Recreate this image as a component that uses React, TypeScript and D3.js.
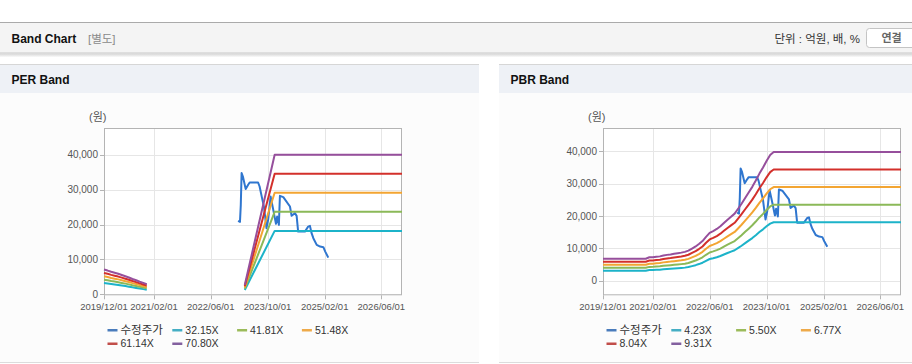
import React from "react";
import * as d3 from "d3";

// ---------- data ----------
const X_TICK_LABELS = ["2019/12/01", "2021/02/01", "2022/06/01", "2023/10/01", "2025/02/01", "2026/06/01"];
const X_START = "2019-12-01";
const X_END = "2026-11-25";
const Y_TICKS = [0, 10000, 20000, 30000, 40000];

const PRICE_DATES = [
  "2023-01-22", "2023-02-07", "2023-02-14", "2023-02-21", "2023-03-04", "2023-03-28", "2023-04-18", "2023-05-01",
  "2023-07-12", "2023-07-25", "2023-08-15", "2023-08-31", "2023-09-22", "2023-10-06", "2023-10-27", "2023-11-19",
  "2023-12-12", "2023-12-22", "2024-01-06", "2024-01-15", "2024-02-13", "2024-04-10", "2024-04-24", "2024-05-22",
  "2024-06-06", "2024-06-19", "2024-08-16", "2024-09-13", "2024-09-28", "2024-10-12", "2024-10-27", "2024-11-25",
  "2024-12-24", "2025-01-21", "2025-02-06", "2025-03-04",
];
const PRICE_VALUES = [
  21045, 20758, 25640, 34740, 33764, 30146, 31381, 32041,
  32041, 30893, 27562, 25151, 18949, 21332, 28022, 24203,
  20184, 22280, 19897, 28223, 27850, 25151, 22480, 23256,
  22480, 17973, 17973, 19408, 19610, 17514, 16078, 14154,
  13666, 13494, 12231, 10508,
];

// PER band: EPS basis (null = gap)
const EPS_DATES = [
  "2019-12-01", "2020-01-01", "2020-02-01", "2020-03-01", "2020-04-01", "2020-05-01", "2020-06-01",
  "2020-07-01", "2020-08-01", "2020-09-01", "2020-10-01", "2020-11-01", "2020-12-01",
  "2021-01-01", "2023-03-20", "2023-12-01", "2026-11-25",
];
const EPS_VALUES = [100, 96, 91, 87, 83, 78, 73, 68, 62, 57, 51, 46, 41, null, 38, 565, 565];
const PER_MULTIPLES = [32.15, 41.81, 51.48, 61.14, 70.8];
const PER_LABELS = ["32.15X", "41.81X", "51.48X", "61.14X", "70.80X"];

// PBR band: BPS basis
const BPS_DATES = [
  "2019-12-01", "2020-01-01", "2020-02-01", "2020-03-01", "2020-04-01", "2020-05-01", "2020-06-01",
  "2020-07-01", "2020-08-01", "2020-09-01", "2020-10-01", "2020-11-01", "2020-12-01",
  "2021-01-01", "2021-02-01", "2021-03-01", "2021-04-01", "2021-05-01", "2021-06-01",
  "2021-07-01", "2021-08-01", "2021-09-01", "2021-10-01", "2021-11-01", "2021-12-01",
  "2022-01-01", "2022-02-01", "2022-03-01", "2022-04-01", "2022-05-01", "2022-06-01",
  "2022-07-01", "2022-08-01", "2022-09-01", "2022-10-01", "2022-11-01", "2022-12-01",
  "2023-01-01", "2023-02-01", "2023-03-01", "2023-04-01", "2023-05-01", "2023-06-01",
  "2023-07-01", "2023-08-01", "2023-09-01", "2023-10-01", "2023-11-01", "2023-12-01",
  "2026-11-25",
];
const BPS_VALUES = [
  730, 730, 730, 730, 730, 730, 730, 730, 730, 730, 730, 730, 730,
  780, 782, 800, 810, 840, 860, 875, 895, 915, 935, 960, 1000,
  1070, 1140, 1220, 1320, 1460, 1590, 1650, 1720, 1810, 1920, 2030, 2130,
  2230, 2400, 2560, 2750, 2930, 3120, 3330, 3560, 3760, 3980, 4180, 4280,
  4280,
];
const PBR_MULTIPLES = [4.23, 5.5, 6.77, 8.04, 9.31];
const PBR_LABELS = ["4.23X", "5.50X", "6.77X", "8.04X", "9.31X"];

const PRICE_LABEL = "수정주가";
const LINE_COLORS = ["#2f76cf", "#1cb3c9", "#8bb958", "#f3a532", "#d3302b", "#964f9c"];
const LEGEND_COLORS = ["#4a7cbc", "#45aec4", "#9bbb5a", "#eeaa4a", "#c14e4a", "#83609f"];

// ---------- helpers ----------
const FONT = "'Liberation Sans', Arial, 'Noto Sans CJK KR', sans-serif";
const parse = (s: string) => new Date(s + "T00:00:00");

type Pt = [Date, number | null];

function BandChart(props: {
  left: number;
  baseDates: string[];
  baseValues: (number | null)[];
  multiples: number[];
  labels: string[];
  yDomain: [number, number];
}) {
  const { left, baseDates, baseValues, multiples, labels, yDomain } = props;
  const top = 128, bottom = 295.3, width = 298;
  const x = d3.scaleTime().domain([parse(X_START), parse(X_END)]).range([left, left + width]);
  const y = d3.scaleLinear().domain(yDomain).range([bottom, top]);
  const line = d3
    .line<Pt>()
    .defined((d) => d[1] != null)
    .x((d) => x(d[0]))
    .y((d) => y(d[1] as number));

  const price: Pt[] = PRICE_DATES.map((d, i) => [parse(d), PRICE_VALUES[i]]);
  const bands: Pt[][] = multiples.map((m) =>
    baseDates.map((d, i) => [parse(d), baseValues[i] == null ? null : (baseValues[i] as number) * m])
  );
  const xTicks = X_TICK_LABELS.map((s) => parse(s.replace(/\//g, "-")));
  const legendItems = [PRICE_LABEL, ...labels];

  return (
    <g>
      <rect x={left} y={top} width={width} height={bottom - top} fill="#fff" />
      {Y_TICKS.map((t) => (
        <line key={"gy" + t} x1={left} x2={left + width} y1={Math.round(y(t)) + 0.5} y2={Math.round(y(t)) + 0.5} stroke="#e6e6e6" />
      ))}
      {xTicks.map((t, i) => (
        <line key={"gx" + i} x1={Math.round(x(t)) + 0.5} x2={Math.round(x(t)) + 0.5} y1={top} y2={bottom} stroke="#e6e6e6" />
      ))}
      <rect x={left + 0.5} y={top + 0.5} width={width - 1} height={bottom - top - 1} fill="none" stroke="#b4b4b4" />
      {xTicks.map((t, i) => (
        <g key={"xt" + i}>
          <line x1={Math.round(x(t)) + 0.5} x2={Math.round(x(t)) + 0.5} y1={bottom} y2={bottom + 4} stroke="#b4b4b4" />
          <text x={x(t)} y={310} textAnchor="middle" fontSize={9.5} fill="#555" fontFamily={FONT}>
            {X_TICK_LABELS[i]}
          </text>
        </g>
      ))}
      {Y_TICKS.map((t) => (
        <g key={"yt" + t}>
          <line x1={left - 4} x2={left} y1={Math.round(y(t)) + 0.5} y2={Math.round(y(t)) + 0.5} stroke="#b4b4b4" />
          <text x={left - 6} y={y(t)} dy="0.35em" textAnchor="end" fontSize={10} fill="#555" fontFamily={FONT}>
            {d3.format(",")(t)}
          </text>
        </g>
      ))}
      <text x={left - 15} y={117} dy="0.35em" fontSize={11} fill="#555" fontFamily={FONT}>
        (원)
      </text>
      <path d={line(price) || ""} fill="none" stroke={LINE_COLORS[0]} strokeWidth={2} strokeLinejoin="round" />
      {bands.map((b, i) => (
        <path key={"b" + i} d={line(b) || ""} fill="none" stroke={LINE_COLORS[i + 1]} strokeWidth={2} strokeLinejoin="round" />
      ))}
      {legendItems.map((lab, i) => {
        const col = i < 4 ? i : i - 4;
        const row = i < 4 ? 0 : 1;
        const lx = left + 3.5 + col * 64.8;
        const ly = 330 + row * 13.5;
        return (
          <g key={"lg" + i}>
            <rect x={lx} y={ly - 1} width={10} height={2.5} fill={LEGEND_COLORS[i]} />
            <text x={lx + 13} y={ly} dy="0.35em" fontSize={i === 0 ? 11.5 : 10.5} fill="#333" fontFamily={FONT}>
              {lab}
            </text>
          </g>
        );
      })}
    </g>
  );
}

export default function App() {
  const W = 912, H = 364;
  return (
    <div style={{ position: "absolute", left: 0, top: 0, width: W, height: H }}>
      <svg width={W} height={H} style={{ display: "block" }}>
        <defs>
          <linearGradient id="shadow" x1="0" y1="0" x2="0" y2="1">
            <stop offset="0" stopColor="#d4d4d4" />
            <stop offset="1" stopColor="#ffffff" />
          </linearGradient>
        </defs>
        <rect x={0} y={0} width={W} height={H} fill="#fff" />
        {/* top header */}
        <rect x={0} y={22} width={W} height={1} fill="#aaa" />
        <rect x={0} y={23} width={W} height={29.5} fill="#f4f4f4" />
        <rect x={0} y={52.5} width={W} height={1} fill="#c4c4c4" />
        <rect x={0} y={53.5} width={W} height={4} fill="url(#shadow)" />
        <text x={11.5} y={38.5} dy="0.35em" fontSize={12} fontWeight="bold" fill="#111" fontFamily={FONT}>
          Band Chart
        </text>
        <text x={88} y={38.5} dy="0.35em" fontSize={11.5} fill="#8a8a8a" fontFamily={FONT}>
          [별도]
        </text>
        <text x={860} y={39} dy="0.35em" textAnchor="end" fontSize={11.5} fill="#333" fontFamily={FONT}>
          단위 : 억원, 배, %
        </text>
        <rect x={866.5} y={28.5} width={60} height={19} rx={3} fill="#fff" stroke="#c4c4c4" />
        <text x={891.5} y={38.5} dy="0.35em" textAnchor="middle" fontSize={11} fontWeight="bold" fill="#666" fontFamily={FONT}>
          연결
        </text>

        {/* panels */}
        {[
          { x: 0, w: 479, title: "PER Band" },
          { x: 499, w: 413, title: "PBR Band" },
        ].map((p) => (
          <g key={p.title}>
            <rect x={p.x} y={64} width={p.w} height={1} fill="#d6d6d6" />
            <rect x={p.x} y={65} width={p.w} height={28} fill="#eef1f6" />
            <rect x={p.x} y={93} width={p.w} height={269} fill="#fcfcfc" />
            <rect x={p.x} y={362} width={p.w} height={1} fill="#dcdcdc" />
            <text x={p.x + 11.5} y={80} dy="0.35em" fontSize={12} fontWeight="bold" fill="#111" fontFamily={FONT}>
              {p.title}
            </text>
          </g>
        ))}

        <BandChart
          left={104}
          baseDates={EPS_DATES}
          baseValues={EPS_VALUES}
          multiples={PER_MULTIPLES}
          labels={PER_LABELS}
          yDomain={[-290, 47660]}
        />
        <BandChart
          left={603}
          baseDates={BPS_DATES}
          baseValues={BPS_VALUES}
          multiples={PBR_MULTIPLES}
          labels={PBR_LABELS}
          yDomain={[-4500, 47250]}
        />
      </svg>
    </div>
  );
}
